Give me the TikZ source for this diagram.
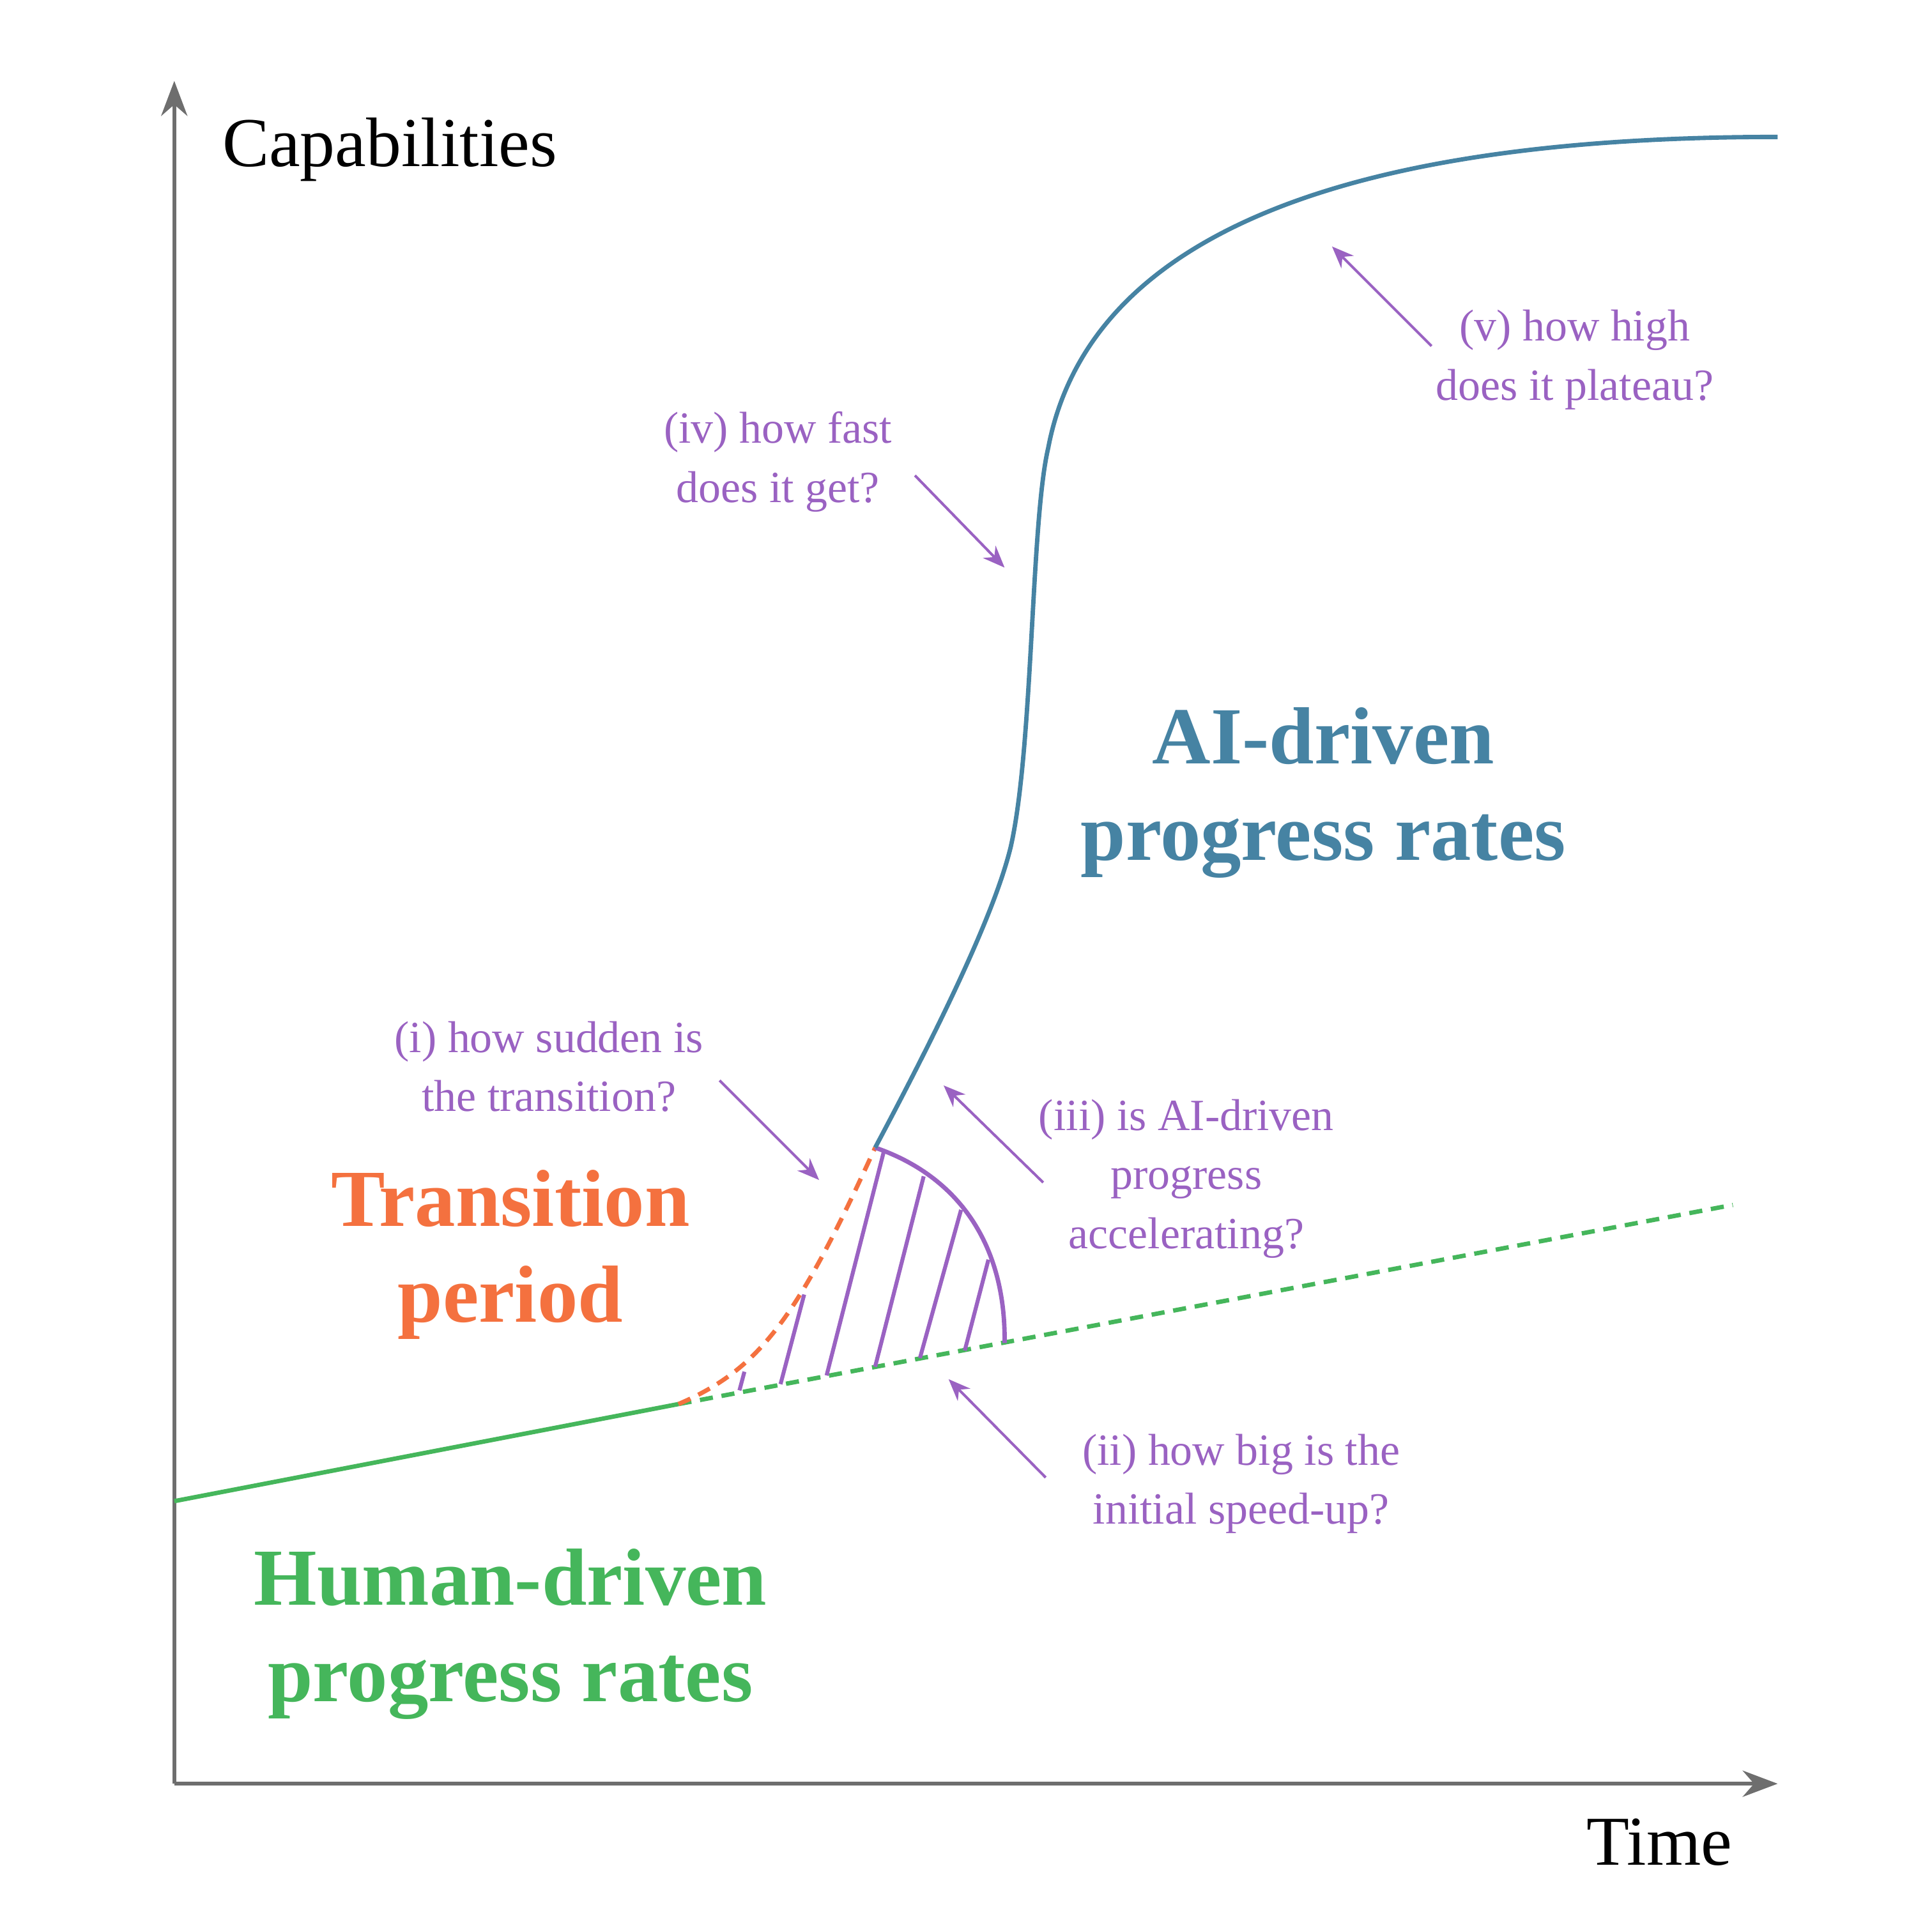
\documentclass[tikz,border=0pt]{standalone}
\usepackage{fontspec}
\setmainfont{Liberation Serif}
\usetikzlibrary{arrows.meta}
\definecolor{ablue}{HTML}{4683A3}
\definecolor{agreen}{HTML}{45B65B}
\definecolor{aorange}{HTML}{F4713F}
\definecolor{apurple}{HTML}{9A62C2}
\definecolor{agray}{HTML}{6E6E6E}
\tikzset{
  axis/.style={agray,line width=0.8pt,-{Stealth[length=8pt,width=6pt]}},
  qlabel/.style={apurple,font=\fontsize{10.2pt}{13.5pt}\selectfont,align=center},
  qarrow/.style={apurple,line width=0.6pt,-{Stealth[length=5pt,width=4pt]}},
  big/.style={font=\bfseries\fontsize{18.5pt}{22pt}\selectfont,align=center},
  hatch/.style={apurple,line width=0.9pt},
  curve/.style={line width=1pt},
  dsh/.style={dash pattern=on 3pt off 2pt}
}
\begin{document}
\begin{tikzpicture}[x=0.01cm,y=-0.01cm]
\useasboundingbox (0,0) rectangle (1552,1536);
\coordinate (o) at (140,1433);
\coordinate (ytop) at (140,65);
\coordinate (xend) at (1428,1433);
\draw[axis] (o) -- (ytop);
\draw[axis] (o) -- (xend);
\node[font=\fontsize{16pt}{18pt}\selectfont] (cap) at (313,120) {Capabilities};
\node[font=\fontsize{16pt}{18pt}\selectfont] (time) at (1333,1480) {Time};
% green
\coordinate (g0) at (140,1206);
\coordinate (g1) at (545,1128);
\coordinate (g2) at (1392,968);
\draw[agreen,curve] (g0) -- (g1);
\draw[agreen,curve,dsh] (g1) -- (g2);
% hatch
\draw[hatch] (594,1117) -- (598,1102);
\draw[hatch] (627,1112) -- (646,1040);
\draw[hatch] (664,1105) -- (710,925);
\draw[hatch] (703,1098) -- (742,945);
\draw[hatch] (739,1091) -- (772,972);
\draw[hatch] (775,1085) -- (794,1012);
% orange
\coordinate (t) at (703,922);
\draw[aorange,curve,dsh] (g1) .. controls (610,1100) and (640,1060) .. (t);
% purple arc
\coordinate (arcend) at (807,1079);
\draw[apurple,curve] (t) .. controls (770,945) and (808,1000) .. (arcend);
% blue
\draw[ablue,curve] (t) .. controls (760,815) and (800,730) .. (812,680)
  .. controls (830,600) and (828,420) .. (842,360)
  .. controls (880,160) and (1150,110) .. (1428,110);
% labels
\node[qlabel] (li) at (441,857) {(i) how sudden is\\the transition?};
\node[qlabel] (liii) at (953,947) {(iii) is AI-driven\\progress\\accelerating?};
\node[qlabel] (lii) at (997,1192) {(ii) how big is the\\initial speed-up?};
\node[qlabel] (liv) at (625,371) {(iv) how fast\\does it get?};
\node[qlabel] (lv) at (1265,289) {(v) how high\\does it plateau?};
\coordinate (ai) at (658,948); \coordinate (aiii) at (758,872);
\coordinate (aii) at (762,1108); \coordinate (aiv) at (807,456);
\coordinate (av) at (1070,198);
\draw[qarrow] (578,868) -- (ai);
\draw[qarrow] (838,950) -- (aiii);
\draw[qarrow] (840,1187) -- (aii);
\draw[qarrow] (735,382) -- (aiv);
\draw[qarrow] (1150,278) -- (av);
\node[big,ablue] (aid) at (1063,637) {AI-driven\\progress rates};
\node[big,aorange] (tp) at (410,1008) {Transition\\period};
\node[big,agreen] (hd) at (410,1313) {Human-driven\\progress rates};
\end{tikzpicture}
\end{document}
